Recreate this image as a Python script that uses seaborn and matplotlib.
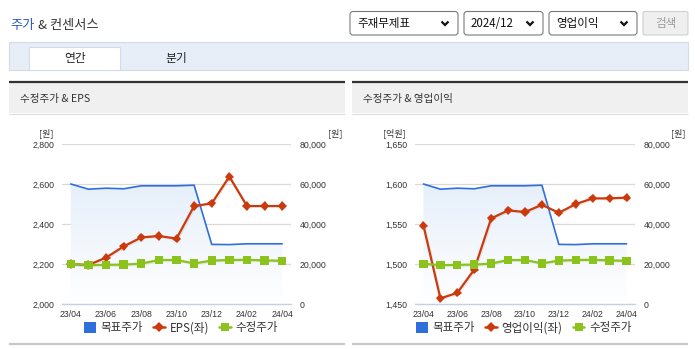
import matplotlib
matplotlib.use("Agg")
import numpy as np
import pandas as pd
import matplotlib.pyplot as plt
import seaborn as sns
from matplotlib.patches import Rectangle, FancyBboxPatch, Patch
from matplotlib.lines import Line2D
from matplotlib.colors import LinearSegmentedColormap
import matplotlib.patheffects as pe
from matplotlib.ticker import FuncFormatter

# ---- data ---------------------------------------------------------------
months = ["23/04", "23/05", "23/06", "23/07", "23/08", "23/09", "23/10",
          "23/11", "23/12", "24/01", "24/02", "24/03", "24/04"]
tick_labels = ["23/04", "23/06", "23/08", "23/10", "23/12", "24/02", "24/04"]
target_price = [60000, 57400, 57900, 57600, 59100, 59100, 59100, 59400,
                29800, 29700, 30100, 30100, 30100]          # 목표주가 [원]
adj_price = [20100, 19400, 19600, 19700, 20200, 22000, 22000, 20300,
             21700, 22000, 22100, 21800, 21600]              # 수정주가 [원]
eps = [2200, 2195, 2232, 2288, 2333, 2340, 2327, 2490,
       2503, 2637, 2490, 2490, 2490]                         # EPS [원]
op_income = [1548, 1457, 1464, 1493, 1557, 1567, 1565, 1574,
             1564, 1575, 1582, 1582, 1583]                   # 영업이익 [억원]

# ---- style ----------------------------------------------------------------
sns.set_style("white")
plt.rcParams["font.family"] = ["Liberation Sans", "Noto Sans CJK KR", "DejaVu Sans"]
KR = ["Noto Sans CJK KR", "DejaVu Sans"]

BLUE = "#2f6fdc"
RED = "#cc3a0c"
GREEN = "#8cc21c"
TXT = "#333333"
AXIS = "#c3d1e3"
GRID = "#d9d9d9"

W, H = 695, 349
fig = plt.figure(figsize=(W / 100, H / 100), dpi=100)
fig.patch.set_facecolor("white")

# page chrome, drawn in pixel coordinates
bg = fig.add_axes([0, 0, 1, 1], zorder=-10)
bg.set_xlim(0, W)
bg.set_ylim(H, 0)
bg.axis("off")

bg.text(10, 26, "주가", color="#2a5cbf", fontsize=9.5, family=KR, va="center", ha="left")
bg.text(37.5, 26, "& 컨센서스", color=TXT, fontsize=9.5, family=KR, va="center", ha="left")

selects = [(350, 108, "주재무제표"), (464, 79, "2024/12"), (549, 88, "영업이익")]
for x0, w, label in selects:
    bg.add_patch(FancyBboxPatch((x0, 11.5), w, 23.5, boxstyle="round,pad=0,rounding_size=3",
                                fc="white", ec="#7a7a7a", lw=0.8))
    bg.text(x0 + 7, 23.5, label, fontsize=8.3, family=KR, color="#111111", va="center", ha="left")
    cx = x0 + w - 13
    bg.plot([cx - 3.5, cx, cx + 3.5], [21.5, 25, 21.5], color="#111111", lw=1.6,
            solid_capstyle="butt", solid_joinstyle="miter")
bg.add_patch(FancyBboxPatch((643, 11.5), 45, 23.5, boxstyle="round,pad=0,rounding_size=2",
                            fc="#efefef", ec="#cfcfcf", lw=0.8))
bg.text(665.5, 23.5, "검색", fontsize=8.3, family=KR, color="#9a9a9a", va="center", ha="center")

# tab bar
bg.add_patch(Rectangle((9, 42), 679, 28, fc="#e8eef8", ec="#d3dbe6", lw=0.8))
bg.add_patch(Rectangle((29, 47), 91, 23, fc="white", ec="#d3dbe6", lw=0.8))
bg.text(75, 58.5, "연간", fontsize=8.5, family=KR, color="#222222", va="center", ha="center")
bg.text(176, 58.5, "분기", fontsize=8.5, family=KR, color="#222222", va="center", ha="center")

# panel frames
for x0, x1, title in [(9, 345, "수정주가 & EPS"), (352, 688, "수정주가 & 영업이익")]:
    bg.add_patch(Rectangle((x0, 82.5), x1 - x0, 30.5, fc="#f0f0f0", ec="none"))
    bg.plot([x0, x1], [82, 82], color="#333333", lw=1.6, solid_capstyle="butt")
    bg.plot([x0, x1], [113.5, 113.5], color="#dddddd", lw=0.8, solid_capstyle="butt")
    bg.plot([x0, x1], [344, 344], color="#c8c8c8", lw=1.6, solid_capstyle="butt")
    bg.text(x0 + 11, 99, title, fontsize=7.6, family=KR, color=TXT, va="center", ha="left")

grad_cmap = LinearSegmentedColormap.from_list(
    "area", [(1.0, 1.0, 1.0), (222 / 255, 234 / 255, 249 / 255)])
comma = FuncFormatter(lambda v, p: f"{v:,.0f}")


def draw_chart(px_left, px_right, left_series, left_name, left_lim, left_step,
               left_unit, left_unit_x, right_unit_x, legend_cx):
    px_top, px_bottom = 144, 304
    rect = [px_left / W, 1 - px_bottom / H, (px_right - px_left) / W, (px_bottom - px_top) / H]
    df = pd.DataFrame({"idx": np.arange(len(months)), "month": months,
                       "target": target_price, "adj": adj_price, "left": left_series})

    ax_p = fig.add_axes(rect)          # price scale (right ticks)
    ax_l = ax_p.twinx()                # EPS / 영업이익 scale (left ticks)
    ax_g = ax_p.twinx()                # 수정주가 drawn on top
    for a in (ax_p, ax_l, ax_g):
        a.set_facecolor("none")
        for s in a.spines.values():
            s.set_visible(False)
    ax_p.spines["bottom"].set_visible(True)
    ax_p.spines["bottom"].set_color(AXIS)
    ax_p.spines["bottom"].set_linewidth(1.0)

    # gradient area under 목표주가
    poly = ax_p.fill_between(df["idx"], df["target"], 0, color="none", lw=0)
    grad = np.linspace(0, 1, 256).reshape(-1, 1)
    img = ax_p.imshow(grad, extent=[-0.5, 12.5, 0, 80000], origin="lower", aspect="auto",
                      cmap=grad_cmap, vmin=0, vmax=1, zorder=1, interpolation="bilinear")
    img.set_clip_path(poly.get_paths()[0], ax_p.transData)
    sns.lineplot(data=df, x="idx", y="target", ax=ax_p, color=BLUE, lw=1.2, zorder=3,
                 legend=False)

    shadow = [pe.SimpleLineShadow(offset=(0.8, -0.8), shadow_color="k", alpha=0.07),
              pe.Normal()]
    sns.lineplot(data=df, x="idx", y="left", ax=ax_l, color=RED, lw=1.6, marker="D",
                 markersize=4.6, markeredgewidth=0, zorder=3, legend=False, path_effects=shadow)
    sns.lineplot(data=df, x="idx", y="adj", ax=ax_g, color=GREEN, lw=1.6, marker="s",
                 markersize=6, markeredgewidth=0, zorder=3, legend=False, path_effects=shadow)

    ax_p.set_xlim(-0.5, 12.5)
    ax_p.set_ylim(0, 80000)
    ax_g.set_ylim(0, 80000)
    ax_l.set_ylim(*left_lim)

    ax_p.set_yticks(np.arange(0, 80001, 20000))
    ax_p.yaxis.set_major_formatter(comma)
    ax_p.yaxis.tick_right()
    ax_p.tick_params(axis="y", length=0, pad=6, labelsize=6.3, labelcolor=TXT)
    ax_p.grid(axis="y", color=GRID, lw=0.9)
    ax_p.grid(axis="x", visible=False)

    ax_l.set_yticks(np.arange(left_lim[0], left_lim[1] + 1, left_step))
    ax_l.yaxis.set_major_formatter(comma)
    ax_l.yaxis.tick_left()
    ax_l.tick_params(axis="y", length=0, pad=5.5, labelsize=6.3, labelcolor=TXT)
    ax_l.grid(False)
    ax_g.yaxis.set_visible(False)
    ax_g.grid(False)

    major = [-0.5] + [i + 0.5 for i in range(0, 13, 2)]
    ax_p.set_xticks(major)
    ax_p.set_xticklabels([])
    ax_p.set_xticks(range(0, 13, 2), minor=True)
    ax_p.set_xticklabels(tick_labels, minor=True)
    ax_p.tick_params(axis="x", which="major", length=4, width=0.9, color=AXIS)
    ax_p.tick_params(axis="x", which="minor", length=0, pad=4, labelsize=6.3, labelcolor=TXT)
    for a in (ax_p, ax_l, ax_g):
        a.set_xlabel("")
        a.set_ylabel("")

    for ux, txt in [(left_unit_x, left_unit), (right_unit_x, "[원]")]:
        bg.text(ux, 133, txt, fontsize=6.5, family=KR, color=TXT, va="center", ha="center")

    handles = [Patch(facecolor=BLUE, edgecolor="none"),
               Line2D([], [], color=RED, lw=1.8, marker="D", markersize=4.6, markeredgewidth=0),
               Line2D([], [], color=GREEN, lw=1.8, marker="s", markersize=6, markeredgewidth=0)]
    fig.legend(handles, ["목표주가", left_name, "수정주가"], loc="center",
               bbox_to_anchor=(legend_cx / W, 1 - 328 / H), ncol=3, frameon=False,
               prop={"family": KR, "size": 8.3}, labelcolor=TXT, handlelength=1.0,
               handleheight=1.0, handletextpad=0.4, columnspacing=0.9)


draw_chart(62, 291, eps, "EPS(좌)", (2000, 2800), 200, "[원]", 46, 335, 181)
draw_chart(415, 635, op_income, "영업이익(좌)", (1450, 1650), 50, "[억원]", 394, 678, 524)

fig.savefig("out.png", dpi=100)
